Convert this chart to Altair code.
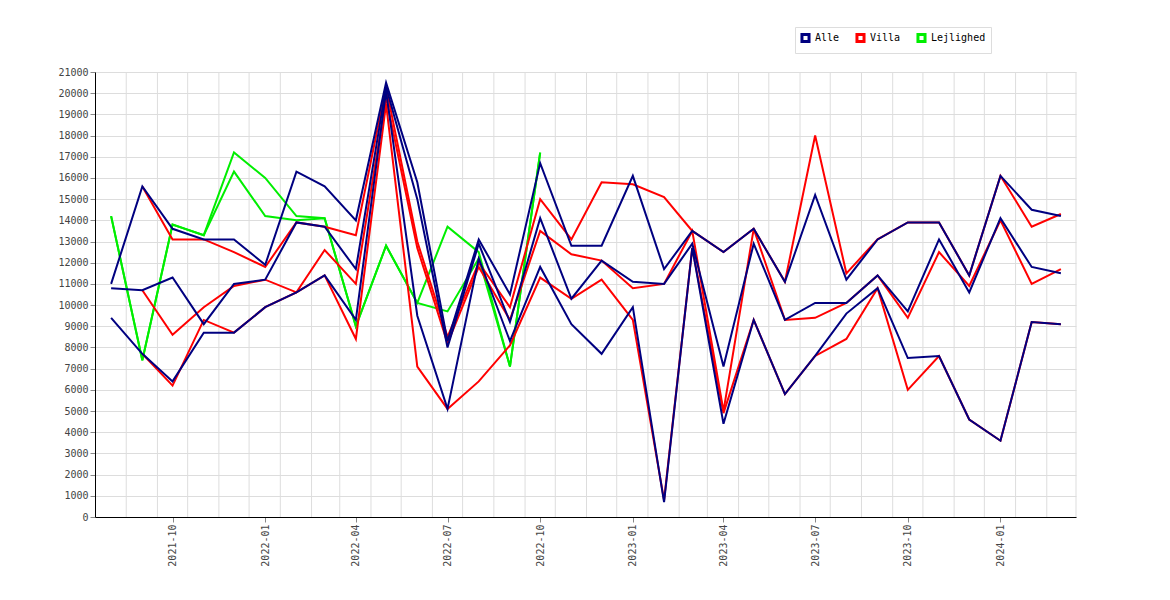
import pandas as pd
import altair as alt

months = pd.date_range('2021-08-01', '2024-03-01', freq='MS')

alle_high = [11000, 15600, 13600, 13100, 13100, 11900, 16300, 15600, 14000, 20500, 15800, 8300, 13100, 10500, 16700, 12800,
             12800, 16100, 11700, 13500, 12500, 13600, 11100, 15200, 11200, 13100, 13900, 13900, 11400, 16100, 14500, 14200]
alle_mid = [10800, 10700, 11300, 9100, 11000, 11200, 13900, 13700, 11700, 20300, 15000, 8000, 12900, 9200, 14100, 10300,
            12100, 11100, 11000, 12900, 7100, 12900, 9300, 10100, 10100, 11400, 9700, 13100, 10600, 14100, 11800, 11500]
alle_low = [9400, 7700, 6400, 8700, 8700, 9900, 10600, 11400, 9300, 20100, 9500, 5100, 12200, 8300, 11800, 9100,
            7700, 9900, 700, 12700, 4400, 9300, 5800, 7600, 9600, 10800, 7500, 7600, 4600, 3600, 9200, 9100]
villa_high = [None, 15600, 13100, 13100, 12500, 11800, 13900, 13700, 13300, 20300, 13000, 8500, 12000, 9900, 15000, 13100,
              15800, 15700, 15100, 13500, 12500, 13600, 11100, 18000, 11500, 13100, 13900, 13900, 11400, 16100, 13700, 14300]
villa_mid = [None, 10700, 8600, 9900, 10900, 11200, 10600, 12600, 11000, 19800, 12700, 8200, 11800, 9300, 13500, 12400,
             12100, 10800, 11000, 13500, 5000, 13600, 9300, 9400, 10100, 11400, 9400, 12500, 10900, 14000, 11000, 11700]
villa_low = [None, 7700, 6200, 9300, 8700, 9900, 10600, 11400, 8400, 19500, 7100, 5100, 6400, 8100, 11300, 10300,
             11200, 9300, 800, 12700, 4900, 9300, 5800, 7600, 8400, 10800, 6000, 7600, 4600, 3600, 9200, 9100]
lejl_a = [14200, 7400, 13800, 13300, 17200, 16000, 14200, 14100, 9000, 12800, 10100, 9700, 12200, 7100, 17200]
lejl_b = [14200, 7400, 13800, 13300, 16300, 14200, 14000, 14100, 9000, 12800, 10100, 13700, 12500, 7100, 17200]

series = [
    ('Lejlighed', 'l1', lejl_a), ('Lejlighed', 'l2', lejl_b),
    ('Villa', 'v1', villa_high), ('Villa', 'v2', villa_mid), ('Villa', 'v3', villa_low),
    ('Alle', 'a1', alle_high), ('Alle', 'a2', alle_mid), ('Alle', 'a3', alle_low),
]
rows = []
for typ, sid, vals in series:
    for m, v in zip(months, vals):
        if v is not None:
            rows.append({'month': m, 'pris': v, 'type': typ, 'serie': sid})
df = pd.DataFrame(rows)

mono = 'DejaVu Sans Mono'
xdom = ['2021-07-16', '2024-03-16']
grid_df = pd.DataFrame({'g': pd.date_range('2021-08-01', '2024-03-01', freq='MS') + pd.Timedelta(days=15)})

grid = alt.Chart(grid_df).mark_rule(color='#dddddd', strokeWidth=1).encode(
    x=alt.X('g:T', scale=alt.Scale(domain=xdom))
)

color = alt.Color('type:N', title=None,
                  scale=alt.Scale(domain=['Alle', 'Villa', 'Lejlighed'], range=['#000080', '#ff0000', '#00ee00']),
                  legend=alt.Legend(orient='none', legendX=700, legendY=-45, direction='horizontal',
                                    symbolType='square', symbolSize=50, symbolStrokeWidth=3,
                                    labelFont=mono, labelFontSize=10,
                                    fillColor='white', strokeColor='#dddddd', padding=5))

x = alt.X('month:T', title=None, scale=alt.Scale(domain=xdom),
          axis=alt.Axis(values=[d.isoformat() for d in pd.date_range('2021-10-01', '2024-01-01', freq='QS')],
                        format='%Y-%m', labelAngle=-90, grid=False, labelFont=mono, labelFontSize=10,
                        labelColor='#444', domainColor='black', tickColor='#888'))
y = alt.Y('pris:Q', title=None, scale=alt.Scale(domain=[0, 21000], nice=False),
          axis=alt.Axis(values=list(range(0, 21001, 1000)), format='d', labelFont=mono, labelFontSize=10,
                        labelColor='#444', gridColor='#dddddd', domainColor='black', tickColor='#888'))

layers = [grid]
for typ in ['Lejlighed', 'Villa', 'Alle']:
    layers.append(alt.Chart(df[df['type'] == typ]).mark_line(strokeWidth=2).encode(
        x=x, y=y, color=color, detail='serie:N', order='month:T'))

chart = alt.layer(*layers).properties(
    width=981, height=445, padding={'left': 87, 'top': 64, 'right': 5, 'bottom': 80},
    autosize=alt.AutoSizeParams(type='none')
).configure_view(stroke=None)

chart.save("out.html", embed_options={"renderer": "svg", "actions": False})
